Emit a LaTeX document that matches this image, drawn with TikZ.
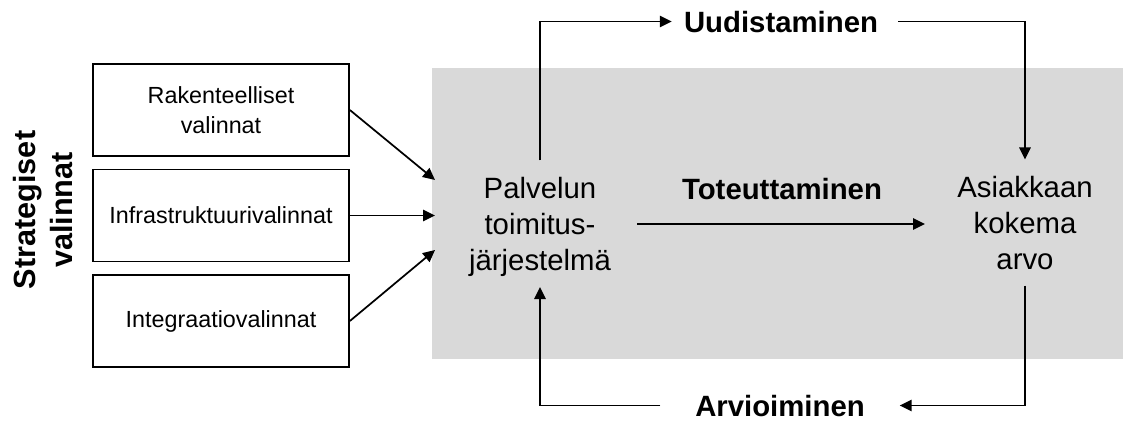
\documentclass[tikz,border=0pt]{standalone}
\usepackage{fontspec}
\setmainfont{Liberation Sans}
\usetikzlibrary{arrows.meta}
\definecolor{panelgray}{HTML}{D9D9D9}
\begin{document}
\begin{tikzpicture}[x=0.75pt,y=-0.75pt,
  flow/.style={line width=1.3pt,-{Triangle[length=9pt,width=8.5pt]}},
  choice/.style={draw,line width=1.3pt,minimum width=192pt,minimum height=69pt,
    inner sep=0pt,align=center,font=\fontsize{17.5}{22.5}\selectfont},
  stage/.style={align=center,inner sep=0pt,font=\fontsize{22}{27}\selectfont},
  phase/.style={inner ysep=0pt,font=\bfseries\fontsize{22}{27}\selectfont}]
\useasboundingbox (0,0) rectangle (1123,421);

% shaded operating area
\fill[panelgray] (432,68) rectangle (1123,359);

% strategic choices
\node[rotate=90,align=center,inner sep=0pt,font=\bfseries\fontsize{23}{28}\selectfont]
  (sv) at (43,210) {Strategiset\\valinnat};
\node[choice] (b1) at (221,110) {Rakenteelliset\\valinnat};
\node[choice] (b2) at (221,215.5) {Infrastruktuurivalinnat};
\node[choice] (b3) at (221,321) {Integraatiovalinnat};

\coordinate (in1) at (435,180);
\coordinate (in2) at (435,215.5);
\coordinate (in3) at (435,250);
\draw[flow] (b1.east) -- (in1);
\draw[flow] (b2.east) -- (in2);
\draw[flow] (b3.east) -- (in3);

% service system and customer value (base = baseline of the last line)
\node[stage,anchor=base] (pj) at (540,270) {Palvelun\\toimitus-\\järjestelmä};
\node[stage,anchor=base] (ak) at (1025,269) {Asiakkaan\\kokema\\arvo};

% implementation
\node[phase,anchor=base] (tot) at (782,199) {Toteuttaminen};
\coordinate (t0) at (637,224);
\coordinate (t1) at (925,224);
\draw[flow] (t0) -- (t1);

% renewal loop
\node[phase,anchor=base,inner xsep=9pt] (uud) at (781,32) {Uudistaminen};
\draw[flow] ([yshift=12pt]pj.north) |- (uud.west);
\draw[flow] ([xshift=6pt]uud.east) -| ([yshift=12pt]ak.north);

% evaluation loop
\node[phase,anchor=base,inner xsep=26pt] (arv) at (780,416) {Arvioiminen};
\draw[flow] ([yshift=-12pt]ak.south) |- (arv.east);
\draw[flow] (arv.west) -| ([yshift=-8pt]pj.south);
\end{tikzpicture}
\end{document}
